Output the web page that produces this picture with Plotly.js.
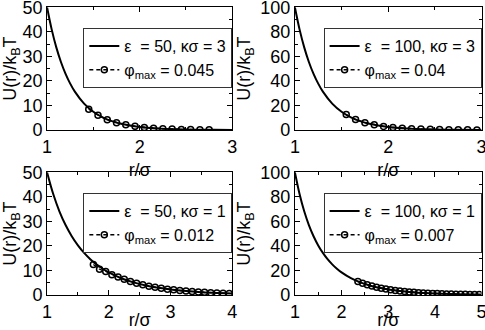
<!DOCTYPE html>
<html>
<head>
<meta charset="utf-8">
<script src="https://cdn.plot.ly/plotly-3.0.1.min.js"></script>
<style>
  html, body { margin: 0; padding: 0; background: white; }
  #plot { width: 485px; height: 330px; }
</style>
</head>
<body>
<div id="plot"></div>
<script>
// panel 1: eps = 50, kappa*sigma = 3
var lineR1 = [1, 1.05, 1.1, 1.15, 1.2, 1.25, 1.3, 1.4, 1.5, 1.6, 1.7, 1.8, 2.0, 2.2, 2.4, 2.6, 2.8, 3.0];
var lineU1 = [50, 40.99, 33.67, 27.72, 22.87, 18.89, 15.64, 10.76, 7.44, 5.17, 3.60, 2.52, 1.24, 0.62, 0.31, 0.16, 0.08, 0.04];
var simR1 = [1.45, 1.55, 1.65, 1.75, 1.85, 1.95, 2.05, 2.15, 2.25, 2.35, 2.45, 2.55, 2.65, 2.75];
var simU1 = [8.5, 6.0, 4.2, 3.0, 2.1, 1.5, 1.05, 0.74, 0.52, 0.37, 0.26, 0.19, 0.13, 0.1];

// panel 2: eps = 100, kappa*sigma = 3
var lineR2 = [1, 1.05, 1.1, 1.15, 1.2, 1.25, 1.3, 1.4, 1.5, 1.6, 1.7, 1.8, 2.0, 2.2, 2.4, 2.6, 2.8, 3.0];
var lineU2 = [100, 81.98, 67.34, 55.44, 45.74, 37.78, 31.28, 21.52, 14.88, 10.34, 7.20, 5.04, 2.48, 1.24, 0.62, 0.32, 0.16, 0.08];
var simR2 = [1.55, 1.65, 1.75, 1.85, 1.95, 2.05, 2.15, 2.25, 2.35, 2.45, 2.55, 2.65, 2.75, 2.85, 2.95];
var simU2 = [12.6, 8.6, 6.0, 4.2, 2.96, 2.09, 1.48, 1.04, 0.74, 0.53, 0.38, 0.27, 0.19, 0.14, 0.1];

// panel 3: eps = 50, kappa*sigma = 1
var lineR3 = [1, 1.1, 1.2, 1.3, 1.4, 1.5, 1.6, 1.7, 1.8, 1.9, 2.0, 2.2, 2.4, 2.6, 2.8, 3.0, 3.25, 3.5, 3.75, 4.0];
var lineU3 = [50, 41.13, 34.11, 28.49, 23.94, 20.22, 17.15, 14.61, 12.48, 10.70, 9.20, 6.85, 5.14, 3.88, 2.95, 2.26, 1.62, 1.17, 0.85, 0.62];
var simR3 = [1.75, 1.85, 1.95, 2.05, 2.15, 2.25, 2.35, 2.45, 2.55, 2.65, 2.75, 2.85, 2.95, 3.05, 3.15, 3.25, 3.35, 3.45, 3.55, 3.65, 3.75, 3.85, 3.95];
var simU3 = [12.4, 10.5, 9.6, 8.3, 7.3, 6.4, 5.5, 4.8, 4.2, 3.6, 3.2, 2.8, 2.4, 2.1, 1.85, 1.62, 1.42, 1.25, 1.1, 0.97, 0.85, 0.75, 0.66];

// panel 4: eps = 100, kappa*sigma = 1
var lineR4 = [1, 1.1, 1.2, 1.3, 1.4, 1.5, 1.6, 1.7, 1.8, 1.9, 2.0, 2.2, 2.4, 2.6, 2.8, 3.0, 3.25, 3.5, 3.75, 4.0, 4.5, 5.0];
var lineU4 = [100, 82.3, 68.2, 57.0, 47.9, 40.4, 34.3, 29.2, 25.0, 21.4, 18.4, 13.7, 10.3, 7.77, 5.90, 4.51, 3.24, 2.35, 1.70, 1.24, 0.67, 0.37];
var simR4 = [2.35, 2.45, 2.55, 2.65, 2.75, 2.85, 2.95, 3.05, 3.15, 3.25, 3.35, 3.45, 3.55, 3.65, 3.75, 3.85, 3.95, 4.05, 4.15, 4.25, 4.35, 4.45, 4.55, 4.65, 4.75, 4.85, 4.95];
var simU4 = [11.0, 9.58, 8.32, 7.25, 6.32, 5.52, 4.82, 4.22, 3.70, 3.24, 2.85, 2.50, 2.20, 1.94, 1.70, 1.50, 1.32, 1.17, 1.03, 0.91, 0.81, 0.71, 0.63, 0.56, 0.49, 0.44, 0.39];

var lineNames = ['ε\u00a0\u00a0= 50, κσ = 3', 'ε\u00a0\u00a0= 100, κσ = 3', 'ε\u00a0\u00a0= 50, κσ = 1', 'ε\u00a0\u00a0= 100, κσ = 1'];
var simNames = ['φ<sub>max</sub> = 0.045', 'φ<sub>max</sub> = 0.04', 'φ<sub>max</sub> = 0.012', 'φ<sub>max</sub> = 0.007'];

var lineR = [lineR1, lineR2, lineR3, lineR4];
var lineU = [lineU1, lineU2, lineU3, lineU4];
var simR = [simR1, simR2, simR3, simR4];
var simU = [simU1, simU2, simU3, simU4];

var traces = [];
var legendIds = ['legend', 'legend2', 'legend3', 'legend4'];
for (var i = 0; i < 4; i++) {
    var ax = i == 0 ? '' : String(i + 1);
    traces.push({
        x: lineR[i], y: lineU[i], name: lineNames[i],
        xaxis: 'x' + ax, yaxis: 'y' + ax, legend: legendIds[i],
        mode: 'lines', line: {color: 'black', width: 2, shape: 'spline'}
    });
    traces.push({
        x: simR[i], y: simU[i], name: simNames[i],
        xaxis: 'x' + ax, yaxis: 'y' + ax, legend: legendIds[i],
        mode: 'lines+markers', line: {color: 'black', width: 1.3, dash: '4px,3px'},
        marker: {symbol: 'circle-open', size: 6, color: 'black', line: {width: 1.5}}
    });
}

function xAxis(dom, anchor, maxR) {
    return {
        domain: dom, anchor: anchor, range: [1, maxR], dtick: 1,
        showline: true, linecolor: 'black', linewidth: 1, mirror: 'ticks',
        ticks: 'inside', ticklen: 5, tickcolor: 'black', showgrid: false, zeroline: false,
        minor: {dtick: 0.5, ticks: 'inside', ticklen: 3, tickcolor: 'black'},
        ticklabeloverflow: 'allow',
        tickfont: {size: 18}, title: {text: 'r/σ', font: {size: 18}, standoff: 7}
    };
}
function yAxis(dom, anchor, maxU) {
    return {
        domain: dom, anchor: anchor, range: [0, maxU], dtick: maxU / 5,
        showline: true, linecolor: 'black', linewidth: 1, mirror: 'ticks',
        ticks: 'inside', ticklen: 5, tickcolor: 'black', showgrid: false, zeroline: false,
        minor: {dtick: maxU / 10, ticks: 'inside', ticklen: 3, tickcolor: 'black'},
        ticklabeloverflow: 'allow',
        tickfont: {size: 18}, title: {text: 'U(r)/k<sub>B</sub>T', font: {size: 18}, standoff: 4}
    };
}
function legendBox(xr, yt) {
    return {
        x: xr, xanchor: 'right', y: yt, yanchor: 'top',
        bgcolor: 'white', bordercolor: '#333', borderwidth: 1,
        font: {size: 16, color: 'black'}, tracegroupgap: 0, itemwidth: 30
    };
}

var topRow = [0.606, 0.978];
var botRow = [0.106, 0.478];
var leftCol = [0.097, 0.479];
var rightCol = [0.608, 0.993];

var layout = {
    width: 485, height: 330,
    margin: {l: 0, r: 0, t: 0, b: 0},
    paper_bgcolor: 'white', plot_bgcolor: 'white',
    font: {family: 'Liberation Sans, Arial, sans-serif', color: 'black', size: 18},
    showlegend: true,
    xaxis: xAxis(leftCol, 'y', 3), yaxis: yAxis(topRow, 'x', 50),
    xaxis2: xAxis(rightCol, 'y2', 3), yaxis2: yAxis(topRow, 'x2', 100),
    xaxis3: xAxis(leftCol, 'y3', 4), yaxis3: yAxis(botRow, 'x3', 50),
    xaxis4: xAxis(rightCol, 'y4', 5), yaxis4: yAxis(botRow, 'x4', 100),
    legend: legendBox(0.479, 0.915),
    legend2: legendBox(0.993, 0.915),
    legend3: legendBox(0.479, 0.415),
    legend4: legendBox(0.993, 0.415)
};

Plotly.newPlot('plot', traces, layout, {staticPlot: true});
</script>
</body>
</html>
